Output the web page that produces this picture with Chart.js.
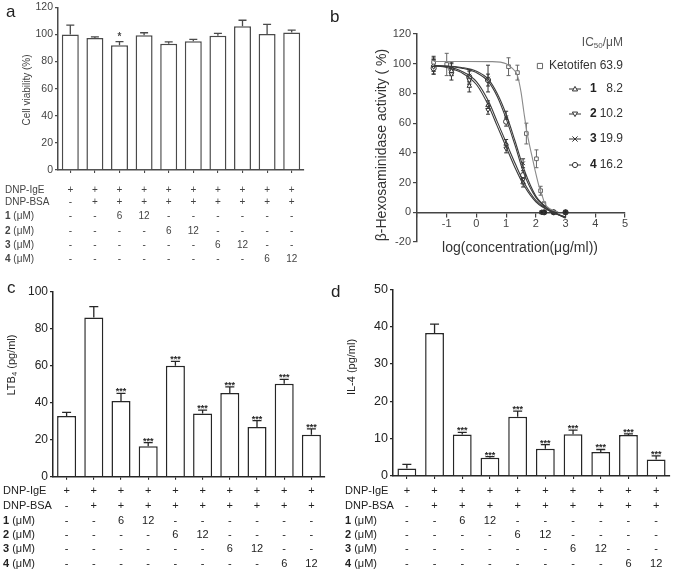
<!DOCTYPE html>
<html><head><meta charset="utf-8">
<script src="https://cdn.jsdelivr.net/npm/chart.js@4.4.1/dist/chart.umd.min.js"></script>
<style>
html,body{margin:0;padding:0;background:#fff;}
#wrap{position:relative;width:675px;height:575px;overflow:hidden;background:#fff;}
canvas{position:absolute;}
.plabel{position:absolute;font-family:"Liberation Sans",Arial,sans-serif;font-size:17px;line-height:17px;color:#222;}
</style></head><body>
<div id="wrap">
  <canvas id="ca" width="337" height="285" style="left:0;top:0"></canvas>
  <canvas id="cb" width="338" height="285" style="left:337px;top:0"></canvas>
  <canvas id="cc" width="337" height="295" style="left:0;top:280px"></canvas>
  <canvas id="cd" width="338" height="295" style="left:337px;top:280px"></canvas>
  <div class="plabel" style="left:6px;top:3px">a</div>
  <div class="plabel" style="left:330px;top:8px">b</div>
  <div class="plabel" style="left:7px;top:279px">c</div>
  <div class="plabel" style="left:331px;top:283px">d</div>
</div>
<script>
// ---------------- data ----------------
const groups = ["IgE", "IgE+BSA", "1-6", "1-12", "2-6", "2-12", "3-6", "3-12", "4-6", "4-12"];

const viability = [100, 97.3, 92, 99.4, 93.1, 94.9, 98.9, 106, 100.3, 101.3];
const viabilitySem = [6.8, 0.9, 2.6, 1.8, 1.3, 1.4, 1.8, 4.4, 7.0, 1.8];
const viabilityMarks = ["", "", "*", "", "", "", "", "", "", ""];

const ltb4 = [32.8, 86.1, 40.9, 16.4, 60.0, 34.2, 45.2, 26.8, 50.3, 22.7];
const ltb4Sem = [2.0, 5.8, 4.1, 2.0, 2.3, 1.8, 3.4, 3.5, 2.3, 3.2];
const ltb4Marks = ["", "", "***", "***", "***", "***", "***", "***", "***", "***"];

const il4 = [2.0, 38.3, 11.1, 4.9, 15.9, 7.3, 11.2, 6.4, 11.0, 4.4];
const il4Sem = [1.1, 2.4, 0.6, 0.3, 1.5, 1.1, 1.1, 0.7, 0.3, 1.0];
const il4Marks = ["", "", "***", "***", "***", "***", "***", "***", "***", "***"];

const rowNames = ["DNP-IgE", "DNP-BSA", "1", "2", "3", "4"];
const rowIgE = ["+", "+", "+", "+", "+", "+", "+", "+", "+", "+"];
const rowBSA = ["-", "+", "+", "+", "+", "+", "+", "+", "+", "+"];
const row1 = ["-", "-", "6", "12", "-", "-", "-", "-", "-", "-"];
const row2 = ["-", "-", "-", "-", "6", "12", "-", "-", "-", "-"];
const row3 = ["-", "-", "-", "-", "-", "-", "6", "12", "-", "-"];
const row4 = ["-", "-", "-", "-", "-", "-", "-", "-", "6", "12"];

// panel b: measured points
const logConc12 = [-1.44, -0.84, -0.24, 0.39, 1.0, 1.57, 2.2, 2.6, 3.0];
const logConc34 = [-1.44, -0.84, -0.24, 0.39, 1.0, 1.57, 2.28, 2.6, 3.0];
const inhib1 = [99, 95, 85, 72, 46, 20, 0, 0, 0];
const inhib1Err = [4, 3, 4, 3, 3, 3, 1, 0.5, 0.5];
const inhib2 = [98, 93, 89, 69, 43, 22, 0, 0, 0];
const inhib2Err = [5, 4, 3, 3, 3, 2, 1, 0.5, 0.5];
const inhib3 = [100, 97, 92, 90, 64, 33, 0, 0, 0];
const inhib3Err = [5, 4, 4, 9, 4, 3, 1, 0.5, 0.5];
const inhib4 = [97, 96, 91, 89, 61, 25, 0, 0, 0];
const inhib4Err = [4, 4, 4, 4, 3, 3, 1, 0.5, 0.5];
const logConcKeto = [-1.44, -1.0, 1.08, 1.38, 1.68, 2.02, 2.16, 2.27];
const inhibKeto = [101, 99.5, 98, 94, 53, 36, 14.5, 5.5];
const inhibKetoErr = [3, 7.5, 6, 5, 7, 6, 3, 1.5];

// panel b: fitted curves
const fitX = [-1.44, -1.0, -0.5, 0, 0.4, 0.7, 1.0, 1.3, 1.6, 2.0, 2.5, 3.0];
const fit1 = [98.5, 97.5, 94, 86, 72, 58, 44, 30, 18, 7, 0.5, -3];
const fit2 = [99, 98, 95, 88, 75, 61, 47, 33, 20, 8, 0.5, -3.5];
const fit3 = [98.5, 98.4, 97.5, 95, 89.5, 80, 66, 48, 29, 11, 1.5, -4];
const fit4 = [98.5, 98.3, 97, 94, 88, 78, 63, 45, 26, 10, 1, -3.5];
const fitKetoX = [-1.44, -0.5, 0.5, 1.0, 1.2, 1.38, 1.5, 1.6, 1.7, 1.8, 1.9, 2.0, 2.1, 2.2, 2.3, 2.5, 2.75];
const fitKeto = [101.5, 101.5, 101.4, 100, 97, 92, 81, 67, 54, 44, 35, 26, 18, 12, 6, 2, 0.3];

const ic50Names = ["Ketotifen", "1", "2", "3", "4"];
const ic50Values = ["63.9", "8.2", "10.2", "19.9", "16.2"];

// ---------------- helpers ----------------
const FONT = '"Liberation Sans", Arial, sans-serif';
const tableRows = [rowIgE, rowBSA, row1, row2, row3, row4];

function drawRotatedTitle(ctx, parts, cx, cy, size, color) {
  ctx.save();
  ctx.translate(cx, cy);
  ctx.rotate(-Math.PI / 2);
  ctx.fillStyle = color;
  ctx.textBaseline = 'middle';
  let total = 0;
  parts.forEach(p => { ctx.font = (p.sub ? size * 0.7 : size) + 'px ' + FONT; total += ctx.measureText(p.t).width; });
  let x = -total / 2;
  parts.forEach(p => {
    ctx.font = (p.sub ? size * 0.7 : size) + 'px ' + FONT;
    ctx.textAlign = 'left';
    ctx.fillText(p.t, x, p.sub ? size * 0.3 : 0);
    x += ctx.measureText(p.t).width;
  });
  ctx.restore();
}

const barExtras = {
  id: 'barExtras',
  afterDraw(chart, args, o) {
    const ctx = chart.ctx, meta = chart.getDatasetMeta(0), ys = chart.scales.y;
    ctx.save();
    ctx.strokeStyle = o.color; ctx.lineWidth = 1.3;
    meta.data.forEach((bar, i) => {
      const v = o.values[i], e = o.sem[i];
      const top = ys.getPixelForValue(v + e), base = ys.getPixelForValue(v);
      ctx.beginPath();
      ctx.moveTo(bar.x, base); ctx.lineTo(bar.x, top);
      ctx.moveTo(bar.x - o.cap / 2, top); ctx.lineTo(bar.x + o.cap / 2, top);
      ctx.stroke();
      if (o.marks[i]) {
        ctx.fillStyle = o.color;
        ctx.font = 'bold ' + o.markSize + 'px ' + FONT;
        ctx.textAlign = 'center'; ctx.textBaseline = 'alphabetic';
        ctx.fillText(o.marks[i], bar.x, top + o.markOffset);
      }
    });
    // condition table
    ctx.fillStyle = o.textColor;
    ctx.textBaseline = 'middle';
    tableRows.forEach((row, r) => {
      const y = o.rowY[r];
      ctx.textAlign = 'left';
      if (r < 2) {
        ctx.font = o.tableSize + 'px ' + FONT;
        ctx.fillText(rowNames[r], o.labelX, y);
      } else {
        ctx.font = 'bold ' + o.tableSize + 'px ' + FONT;
        ctx.fillText(rowNames[r], o.labelX, y);
        const w = ctx.measureText(rowNames[r]).width;
        ctx.font = o.tableSize + 'px ' + FONT;
        ctx.fillText(' (\u03BCM)', o.labelX + w, y);
      }
      ctx.font = o.tableSize + 'px ' + FONT;
      ctx.textAlign = 'center';
      row.forEach((cell, i) => ctx.fillText(cell, meta.data[i].x, y));
    });
    drawRotatedTitle(ctx, o.title, o.titleX, o.titleY, o.titleSize, o.textColor);
    ctx.restore();
  }
};

function makeBarChart(id, o) {
  return new Chart(document.getElementById(id), {
    type: 'bar',
    data: { labels: groups, datasets: [{ data: o.values, backgroundColor: '#fff', borderColor: o.color, borderWidth: 1.5, categoryPercentage: 1, barPercentage: o.barPct }] },
    options: {
      responsive: false, animation: false, events: [],
      layout: { padding: { left: 0, top: o.padTop, right: o.padRight, bottom: 0 } },
      plugins: { legend: { display: false }, tooltip: { enabled: false }, barExtras: o },
      scales: {
        x: {
          grid: { display: true, drawOnChartArea: false, offset: false, tickLength: 3, color: o.color, lineWidth: 1.1 },
          border: { display: true, color: o.color, width: 1.5 },
          ticks: { display: false },
          afterFit: s => { s.height = o.xHeight; }
        },
        y: {
          min: 0, max: o.yMax,
          ticks: { stepSize: o.yStep, font: { family: FONT, size: o.tickSize, lineHeight: 1 }, color: o.textColor, padding: 2 },
          grid: { drawOnChartArea: false, tickLength: 3, color: o.color, lineWidth: 1.3 },
          border: { display: true, color: o.color, width: 1.5 },
          afterFit: s => { s.width = o.yWidth; }
        }
      }
    },
    plugins: [barExtras]
  });
}

// ---------------- panel a ----------------
makeBarChart('ca', {
  values: viability, sem: viabilitySem, marks: viabilityMarks,
  yMax: 120, yStep: 20, yWidth: 58, xHeight: 115, padTop: 6, padRight: 33, barPct: 0.69,
  color: '#4a4a4a', textColor: '#444', tickSize: 10.5, cap: 8, markSize: 10, markOffset: -2,
  rowY: [190, 202.5, 216.5, 231, 245, 259], labelX: 5, tableSize: 10,
  title: [{ t: 'Cell viability (%)' }], titleX: 27, titleY: 90, titleSize: 10
});

// ---------------- panel c ----------------
makeBarChart('cc', {
  values: ltb4, sem: ltb4Sem, marks: ltb4Marks,
  yMax: 100, yStep: 20, yWidth: 53, xHeight: 98.3, padTop: 11.7, padRight: 12, barPct: 0.7,
  color: '#262626', textColor: '#222', tickSize: 12, cap: 9, markSize: 9, markOffset: 1,
  rowY: [211, 226, 241, 255, 269, 284], labelX: 3, tableSize: 11,
  title: [{ t: 'LTB' }, { t: '4', sub: true }, { t: ' (pg/ml)' }], titleX: 12, titleY: 85, titleSize: 11
});

// ---------------- panel d ----------------
makeBarChart('cd', {
  values: il4, sem: il4Sem, marks: il4Marks,
  yMax: 50, yStep: 10, yWidth: 56, xHeight: 99, padTop: 9.3, padRight: 5, barPct: 0.68,
  color: '#262626', textColor: '#222', tickSize: 12.5, cap: 9, markSize: 9, markOffset: 1,
  rowY: [211, 226, 241, 255, 269, 284], labelX: 8, tableSize: 11,
  title: [{ t: 'IL-4 (pg/ml)' }], titleX: 15, titleY: 87, titleSize: 11
});

// ---------------- panel b ----------------
function zip(xs, ys) { return xs.map((x, i) => ({ x: x, y: ys[i] })); }
function curve(xs, ys, color) {
  return { data: zip(xs, ys), showLine: true, pointRadius: 0, borderColor: color, borderWidth: 1.1, cubicInterpolationMode: 'monotone', fill: false };
}
function pts(xs, ys, errs, style, rot, color) {
  return { data: zip(xs, ys), errors: errs, showLine: false, pointStyle: style, pointRotation: rot, pointRadius: 2.6, pointBorderWidth: 1, borderColor: color,
           backgroundColor: c => (c.raw && c.raw.y <= 0.5 ? '#222' : '#fff') };
}

const markerStyles = [['rect', 0], ['triangle', 0], ['triangle', 180], ['crossRot', 0], ['circle', 0]];

function drawMarker(ctx, style, rot, x, y, r) {
  ctx.beginPath();
  if (style === 'rect') { ctx.rect(x - r, y - r, 2 * r, 2 * r); ctx.fill(); ctx.stroke(); return; }
  if (style === 'circle') { ctx.arc(x, y, r, 0, Math.PI * 2); ctx.fill(); ctx.stroke(); return; }
  if (style === 'triangle') {
    const s = rot ? -1 : 1;
    ctx.moveTo(x, y - s * r); ctx.lineTo(x + r, y + s * r * 0.75); ctx.lineTo(x - r, y + s * r * 0.75); ctx.closePath(); ctx.fill(); ctx.stroke(); return;
  }
  ctx.moveTo(x - r, y - r); ctx.lineTo(x + r, y + r); ctx.moveTo(x + r, y - r); ctx.lineTo(x - r, y + r); ctx.stroke();
}

const doseExtras = {
  id: 'doseExtras',
  beforeDatasetsDraw(chart) {
    const ctx = chart.ctx, ys = chart.scales.y;
    ctx.save();
    chart.data.datasets.forEach((ds, di) => {
      if (!ds.errors) return;
      const meta = chart.getDatasetMeta(di);
      ctx.strokeStyle = ds.borderColor; ctx.lineWidth = 1;
      meta.data.forEach((p, j) => {
        const v = ds.data[j].y, e = ds.errors[j];
        const y1 = ys.getPixelForValue(v + e), y2 = ys.getPixelForValue(v - e);
        ctx.beginPath();
        ctx.moveTo(p.x, y1); ctx.lineTo(p.x, y2);
        ctx.moveTo(p.x - 2, y1); ctx.lineTo(p.x + 2, y1);
        ctx.moveTo(p.x - 2, y2); ctx.lineTo(p.x + 2, y2);
        ctx.stroke();
      });
    });
    ctx.restore();
  },
  afterDraw(chart) {
    const ctx = chart.ctx;
    ctx.save();
    // axis titles
    ctx.fillStyle = '#333';
    ctx.font = '14px ' + FONT; ctx.textAlign = 'center'; ctx.textBaseline = 'middle';
    ctx.fillText('log(concentration(\u03BCg/ml))', 183, 248);
    drawRotatedTitle(ctx, [{ t: '\u03B2-Hexosaminidase activity ( %)' }], 45, 145, 14, '#333');
    // legend header
    const right = 286;
    ctx.fillStyle = '#555'; ctx.textBaseline = 'middle'; ctx.textAlign = 'left';
    const f = '12px ' + FONT, fs = '8px ' + FONT;
    ctx.font = f; const w1 = ctx.measureText('IC').width, w3 = ctx.measureText('/\u03BCM').width;
    ctx.font = fs; const w2 = ctx.measureText('50').width;
    let x = right - (w1 + w2 + w3);
    ctx.font = f; ctx.fillText('IC', x, 43); x += w1;
    ctx.font = fs; ctx.fillText('50', x, 46); x += w2;
    ctx.font = f; ctx.fillText('/\u03BCM', x, 43);
    // legend entries
    const rowsY = [66, 89, 114, 139, 165];
    const colors = ['#666', '#333', '#333', '#333', '#333'];
    ic50Names.forEach((name, i) => {
      const y = rowsY[i];
      ctx.strokeStyle = colors[i]; ctx.fillStyle = '#fff'; ctx.lineWidth = 1;
      if (i === 0) {
        ctx.font = '12px ' + FONT;
        const label = name + ' ' + ic50Values[i];
        const w = ctx.measureText(label).width;
        drawMarker(ctx, 'rect', 0, right - w - 9, y, 2.6);
        ctx.fillStyle = '#333'; ctx.textAlign = 'right';
        ctx.fillText(label, right, y);
      } else {
        ctx.beginPath(); ctx.moveTo(232, y); ctx.lineTo(244, y); ctx.stroke();
        drawMarker(ctx, markerStyles[i][0], markerStyles[i][1], 238, y, 2.6);
        ctx.fillStyle = '#222'; ctx.font = 'bold 12px ' + FONT; ctx.textAlign = 'left';
        ctx.fillText(name, 253, y);
        ctx.fillStyle = '#333'; ctx.font = '12px ' + FONT; ctx.textAlign = 'right';
        ctx.fillText(ic50Values[i], right, y);
      }
    });
    ctx.restore();
  }
};

new Chart(document.getElementById('cb'), {
  type: 'scatter',
  data: {
    datasets: [
      curve(fitKetoX, fitKeto, '#8a8a8a'),
      curve(fitX, fit1, '#3a3a3a'),
      curve(fitX, fit2, '#3a3a3a'),
      curve(fitX, fit3, '#3a3a3a'),
      curve(fitX, fit4, '#3a3a3a'),
      pts(logConcKeto, inhibKeto, inhibKetoErr, 'rect', 0, '#666'),
      pts(logConc12, inhib1, inhib1Err, 'triangle', 0, '#333'),
      pts(logConc12, inhib2, inhib2Err, 'triangle', 180, '#333'),
      pts(logConc34, inhib3, inhib3Err, 'crossRot', 0, '#333'),
      pts(logConc34, inhib4, inhib4Err, 'circle', 0, '#333')
    ]
  },
  options: {
    responsive: false, animation: false, events: [],
    layout: { padding: { left: 0, top: 34, right: 50, bottom: 43 } },
    plugins: { legend: { display: false }, tooltip: { enabled: false } },
    scales: {
      x: {
        type: 'linear', min: -2, max: 5, position: { y: 0 },
        ticks: { stepSize: 1, font: { family: FONT, size: 11 }, color: '#444', padding: 1,
                 callback: v => (v === -2 ? '' : String(v)) },
        grid: { drawOnChartArea: false, tickLength: 4, color: '#444', lineWidth: 1.2 },
        border: { display: true, color: '#444', width: 1.5 }
      },
      y: {
        min: -20, max: 120,
        ticks: { stepSize: 20, font: { family: FONT, size: 11, lineHeight: 1 }, color: '#444', padding: 2 },
        grid: { drawOnChartArea: false, tickLength: 4, color: '#444', lineWidth: 1.2 },
        border: { display: true, color: '#444', width: 1.5 },
        afterFit: s => { s.width = 80; }
      }
    }
  },
  plugins: [doseExtras]
});
</script>
</body></html>
